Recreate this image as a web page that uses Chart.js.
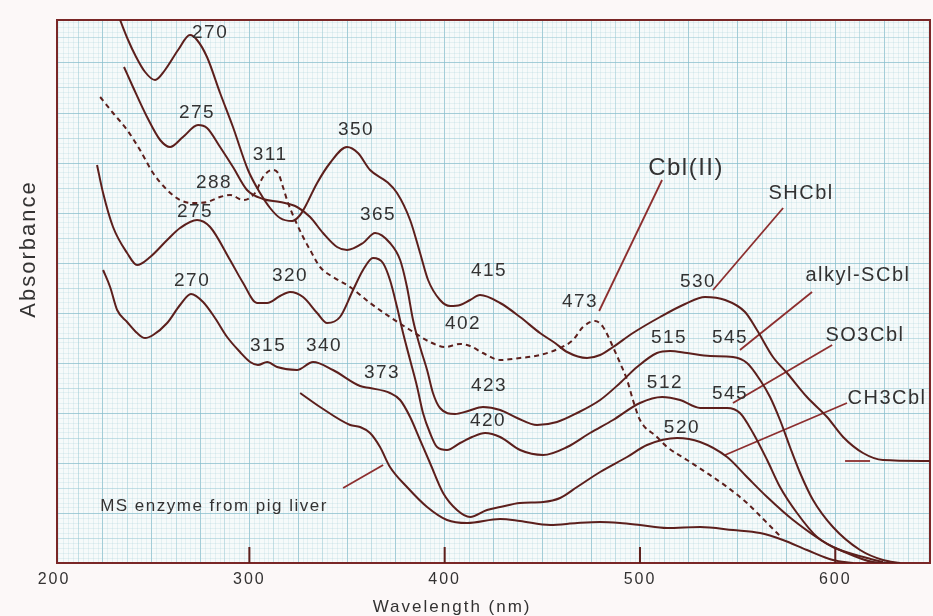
<!DOCTYPE html>
<html>
<head>
<meta charset="utf-8">
<script src="https://cdn.jsdelivr.net/npm/chart.js@4.4.1/dist/chart.umd.min.js"></script>
<style>
  html, body { margin: 0; padding: 0; background: #fcf8f8; }
  #wrap { width: 933px; height: 616px; position: relative; }
</style>
</head>
<body>
<div id="wrap"><canvas id="grafico"></canvas></div>
<script>
// spectra: [wavelength nm, absorbance (arbitrary)]
const shcbl = [[233.8,5.43],[237.9,5.23],[241.5,5.08],[246.6,4.91],[251.7,4.83],[256.8,4.93],[263.5,5.13],[269.6,5.28],[273.2,5.23],[278.3,5.06],[285.0,4.70],[291.6,4.36],[299.3,3.93],[305.5,3.70],[310.6,3.55],[315.7,3.45],[321.9,3.42],[326.0,3.48],[328.5,3.56],[334.7,3.80],[341.3,4.00],[350.0,4.16],[355.6,4.10],[361.8,3.93],[370.5,3.81],[375.6,3.70],[382.3,3.43],[387.4,3.10],[391.5,2.83],[397.6,2.63],[402.8,2.57],[407.9,2.58],[413.0,2.63],[418.1,2.68],[428.4,2.60],[438.6,2.46],[448.8,2.30],[456.5,2.20],[462.7,2.11],[472.9,2.05],[479.6,2.08],[486.2,2.16],[496.4,2.30],[510.3,2.46],[523.1,2.59],[533.3,2.66],[543.6,2.63],[553.8,2.51],[559.9,2.33],[568.1,2.06],[575.3,1.90],[585.5,1.66],[595.8,1.46],[604.0,1.26],[614.2,1.10],[624.4,1.03],[648.5,1.02]];

const alkylScbl = [[235.8,4.96],[240.4,4.76],[247.6,4.46],[254.3,4.23],[259.4,4.16],[266.0,4.26],[273.7,4.38],[278.3,4.35],[285.0,4.16],[291.6,3.96],[298.8,3.73],[307.0,3.64],[315.7,3.61],[324.4,3.56],[331.1,3.46],[337.7,3.30],[344.9,3.16],[350.0,3.13],[358.2,3.20],[364.4,3.30],[372.0,3.20],[377.2,3.03],[380.7,2.76],[383.8,2.43],[387.4,2.16],[391.0,1.93],[394.0,1.70],[397.6,1.55],[405.3,1.49],[412.0,1.52],[419.6,1.56],[428.4,1.53],[437.1,1.45],[447.3,1.38],[457.5,1.41],[467.8,1.50],[479.6,1.63],[489.8,1.80],[498.5,1.96],[508.7,2.10],[515.4,2.12],[524.1,2.10],[535.9,2.07],[547.6,2.06],[554.8,2.00],[561.5,1.83],[566.6,1.66],[571.7,1.43],[576.8,1.16],[582.0,0.90],[588.6,0.63],[598.8,0.36],[612.7,0.13],[624.4,0.03],[633.2,0.00]];

const so3cbl = [[222.0,3.98],[225.1,3.70],[230.2,3.36],[237.4,3.10],[242.5,2.98],[249.2,3.06],[257.9,3.23],[264.5,3.35],[273.2,3.43],[279.9,3.36],[290.1,3.03],[296.8,2.80],[303.9,2.60],[309.1,2.60],[315.7,2.67],[320.8,2.71],[327.5,2.66],[334.7,2.50],[339.8,2.40],[346.4,2.46],[353.1,2.73],[358.2,2.93],[363.3,3.05],[368.4,3.00],[372.0,2.83],[375.6,2.56],[378.7,2.30],[382.3,2.03],[385.9,1.76],[388.9,1.50],[392.5,1.30],[396.1,1.16],[401.2,1.13],[407.9,1.20],[414.0,1.26],[420.7,1.30],[428.4,1.26],[438.6,1.13],[450.4,1.08],[462.7,1.16],[474.4,1.30],[486.2,1.43],[500.0,1.60],[511.3,1.66],[520.5,1.63],[530.8,1.55],[544.6,1.55],[551.2,1.50],[557.9,1.30],[565.1,1.03],[571.7,0.76],[580.4,0.50],[590.7,0.26],[606.0,0.10],[619.3,0.01],[628.0,0.00]];

const ch3cbl = [[225.1,2.93],[228.7,2.76],[232.3,2.53],[237.4,2.41],[242.5,2.30],[246.6,2.25],[250.7,2.28],[257.9,2.40],[264.5,2.58],[270.1,2.69],[276.3,2.61],[282.4,2.45],[288.6,2.26],[295.2,2.11],[300.4,2.01],[304.4,1.98],[309.1,2.01],[314.2,1.96],[324.4,1.93],[332.6,2.01],[342.8,1.93],[356.7,1.77],[361.8,1.75],[372.0,1.70],[377.2,1.63],[382.3,1.46],[387.4,1.23],[392.5,1.00],[399.2,0.70],[406.3,0.53],[413.0,0.46],[421.7,0.53],[428.4,0.56],[438.6,0.60],[450.4,0.61],[459.1,0.65],[467.8,0.76],[479.6,0.91],[493.4,1.06],[503.6,1.18],[519.0,1.25],[530.8,1.21],[544.6,1.06],[554.8,0.86],[565.1,0.66],[578.4,0.43],[598.8,0.16],[616.3,0.05],[624.4,0.01]];

const msEnzyme = [[326.0,1.70],[336.2,1.56],[351.6,1.38],[356.7,1.36],[361.8,1.30],[366.9,1.16],[372.0,0.96],[380.7,0.76],[391.0,0.56],[401.2,0.43],[411.5,0.40],[428.4,0.44],[438.6,0.42],[454.0,0.38],[467.8,0.40],[479.6,0.41],[489.8,0.40],[500.0,0.38],[513.9,0.35],[530.8,0.36],[547.6,0.33],[561.5,0.30],[573.2,0.23],[585.5,0.13],[598.8,0.03],[609.1,0.00]];

const cblII = [[223.6,4.66],[230.2,4.50],[237.4,4.33],[244.0,4.13],[250.7,3.90],[257.9,3.73],[264.5,3.63],[271.2,3.60],[278.3,3.61],[285.0,3.66],[290.1,3.68],[296.8,3.63],[302.9,3.70],[307.0,3.86],[311.6,3.93],[314.7,3.90],[317.2,3.76],[319.8,3.60],[323.4,3.43],[327.5,3.26],[331.1,3.13],[336.2,2.96],[342.8,2.86],[351.6,2.76],[361.8,2.60],[372.0,2.46],[382.3,2.33],[392.5,2.21],[400.2,2.16],[407.9,2.19],[413.0,2.17],[419.6,2.10],[428.4,2.03],[438.6,2.05],[448.8,2.08],[459.1,2.15],[465.7,2.23],[470.8,2.36],[477.0,2.42],[481.1,2.36],[486.2,2.16],[489.8,2.00],[493.4,1.83],[496.4,1.63],[500.0,1.43],[508.7,1.26],[513.9,1.16],[524.1,1.03],[534.3,0.90],[544.6,0.76],[554.8,0.60],[565.1,0.40],[572.7,0.25]];

// pointer strokes from each name to its curve
const leaders = [
  [[511.3,3.83],[479.1,2.52]],
  [[573.3,3.55],[537.4,2.73]],
  [[588.1,2.71],[551.2,2.13]],
  [[598.4,2.18],[547.6,1.60]],
  [[606.0,1.60],[543.6,1.08]],
  [[348.0,0.75],[368.5,0.98]],
  [[605.0,1.02],[617.8,1.02]]
];

const xTicks = [200, 300, 400, 500, 600];
const tickMarks = [300, 400, 500, 600];
const tickLen = 0.16;

const notas = [
  { texto: '270', nm: 279.9, a: 5.30, tipo: 'pico' },
  { texto: '275', nm: 273.2, a: 4.50, tipo: 'pico' },
  { texto: '311', nm: 310.6, a: 4.08, tipo: 'pico' },
  { texto: '288', nm: 281.9, a: 3.80, tipo: 'pico' },
  { texto: '275', nm: 272.2, a: 3.51, tipo: 'pico' },
  { texto: '270', nm: 270.7, a: 2.82, tipo: 'pico' },
  { texto: '320', nm: 320.8, a: 2.87, tipo: 'pico' },
  { texto: '350', nm: 354.6, a: 4.33, tipo: 'pico' },
  { texto: '365', nm: 365.9, a: 3.48, tipo: 'pico' },
  { texto: '415', nm: 422.7, a: 2.92, tipo: 'pico' },
  { texto: '473', nm: 469.3, a: 2.61, tipo: 'pico' },
  { texto: '402', nm: 409.4, a: 2.39, tipo: 'pico' },
  { texto: '315', nm: 309.6, a: 2.17, tipo: 'pico' },
  { texto: '340', nm: 338.2, a: 2.17, tipo: 'pico' },
  { texto: '373', nm: 367.9, a: 1.90, tipo: 'pico' },
  { texto: '423', nm: 422.7, a: 1.77, tipo: 'pico' },
  { texto: '420', nm: 422.2, a: 1.42, tipo: 'pico' },
  { texto: '530', nm: 529.7, a: 2.81, tipo: 'pico' },
  { texto: '515', nm: 514.9, a: 2.25, tipo: 'pico' },
  { texto: '545', nm: 546.1, a: 2.25, tipo: 'pico' },
  { texto: '512', nm: 512.8, a: 1.80, tipo: 'pico' },
  { texto: '545', nm: 546.1, a: 1.69, tipo: 'pico' },
  { texto: '520', nm: 521.5, a: 1.35, tipo: 'pico' },
  { texto: 'Cbl(II)', nm: 523.6, a: 3.95, tipo: 'grande' },
  { texto: 'SHCbl', nm: 582.5, a: 3.70, tipo: 'nome' },
  { texto: 'alkyl-SCbl', nm: 611.6, a: 2.88, tipo: 'nome' },
  { texto: 'SO3Cbl', nm: 615.2, a: 2.28, tipo: 'nome' },
  { texto: 'CH3Cbl', nm: 626.5, a: 1.65, tipo: 'nome' },
  { texto: 'MS enzyme from pig liver', nm: 281.9, a: 0.57, tipo: 'nota' }
];

const familia = '"Liberation Sans", Arial, Helvetica, sans-serif';
const tamanhos = { pico: 19, nome: 20, grande: 24, nota: 17 };
const corCurva = '#5c1f1c';
const corLider = '#8c2e2e';
const corBorda = '#7a2727';
const corTexto = '#333232';
const xMin = 201.5, xMax = 648.5, yMin = 0, yMax = 5.43;

const pts = arr => arr.map(([x, y]) => ({ x, y }));

const curva = (dados, extra) => Object.assign({
  data: pts(dados),
  borderColor: corCurva,
  borderWidth: 2,
  pointRadius: 0,
  fill: false,
  cubicInterpolationMode: 'monotone'
}, extra || {});

const datasets = [
  curva(shcbl),
  curva(alkylScbl),
  curva(so3cbl),
  curva(ch3cbl),
  curva(msEnzyme),
  curva(cblII, { borderDash: [5, 4], borderWidth: 2 }),
  ...leaders.map(l => ({
    data: pts(l), borderColor: corLider, borderWidth: 1.8, pointRadius: 0, tension: 0, fill: false
  })),
  {
    data: tickMarks.flatMap(v => [{ x: v, y: 0 }, { x: v, y: tickLen }, { x: v, y: null }]),
    borderColor: corCurva, borderWidth: 2, pointRadius: 0, tension: 0, spanGaps: false, fill: false
  }
];

// grid paper: fine / medium / bold lines from hidden scales
const gradeX = (passo, cor, borda) => ({
  type: 'linear', position: 'top', min: xMin, max: xMax,
  ticks: { display: false, stepSize: passo, includeBounds: false },
  grid: { color: cor, lineWidth: 1, drawTicks: false },
  border: { display: !!borda, color: corBorda, width: 2 },
  afterFit: s => { s.height = 0; }
});
const gradeY = (passo, cor, borda) => ({
  type: 'linear', position: 'right', min: yMin, max: yMax,
  ticks: { display: false, stepSize: passo, includeBounds: false },
  grid: { color: cor, lineWidth: 1, drawTicks: false },
  border: { display: !!borda, color: corBorda, width: 2 },
  afterFit: s => { s.width = 0; }
});

const papel = {
  id: 'papel',
  beforeDraw(chart) {
    const { ctx, chartArea: a } = chart;
    ctx.save();
    ctx.fillStyle = '#fcf8f8';
    ctx.fillRect(0, 0, chart.width, chart.height);
    ctx.fillStyle = '#f6fafa';
    ctx.fillRect(a.left, a.top, a.right - a.left, a.bottom - a.top);
    ctx.restore();
    ctx.letterSpacing = '2px';
  },
  afterDatasetsDraw(chart) {
    const { ctx, chartArea: a } = chart;
    const x = chart.scales.x, y = chart.scales.y;
    ctx.save();
    ctx.fillStyle = corTexto;
    ctx.textAlign = 'center';
    ctx.textBaseline = 'middle';
    ctx.letterSpacing = '1.5px';
    notas.forEach(n => {
      ctx.font = tamanhos[n.tipo] + 'px ' + familia;
      ctx.fillText(n.texto, x.getPixelForValue(n.nm), y.getPixelForValue(n.a));
    });
    ctx.letterSpacing = '2px';
    ctx.font = '17px ' + familia;
    ctx.fillText('Wavelength (nm)', x.getPixelForValue(403.8), a.bottom + 44);
    ctx.translate(29, y.getPixelForValue(3.14));
    ctx.rotate(-Math.PI / 2);
    ctx.font = '22px ' + familia;
    ctx.fillText('Absorbance', 0, 0);
    ctx.restore();
  }
};

new Chart(document.getElementById('grafico'), {
  type: 'line',
  data: { datasets },
  options: {
    responsive: true,
    maintainAspectRatio: false,
    animation: false,
    events: [],
    layout: { padding: { top: 20, right: 3, left: 0, bottom: 0 } },
    plugins: { legend: { display: false }, tooltip: { enabled: false } },
    scales: {
      gx1: gradeX(2.5, 'rgba(160,205,215,0.22)', true),
      gx2: gradeX(12.5, 'rgba(145,195,208,0.38)'),
      gx3: gradeX(25, 'rgba(130,185,202,0.48)'),
      gy1: gradeY(0.05, 'rgba(160,205,215,0.22)', true),
      gy2: gradeY(0.25, 'rgba(145,195,208,0.38)'),
      gy3: gradeY(0.5, 'rgba(130,185,202,0.48)'),
      x: {
        type: 'linear', position: 'bottom', min: xMin, max: xMax,
        afterBuildTicks: s => { s.ticks = xTicks.map(v => ({ value: v })); },
        afterFit: s => { s.height = 53; },
        grid: { display: false, drawTicks: false },
        border: { display: true, color: corBorda, width: 2 },
        ticks: { color: corTexto, font: { family: familia, size: 16 }, padding: 7, autoSkip: false, maxRotation: 0, callback: v => String(v) }
      },
      y: {
        type: 'linear', position: 'left', min: yMin, max: yMax,
        afterFit: s => { s.width = 57; },
        grid: { display: false, drawTicks: false },
        border: { display: true, color: corBorda, width: 2 },
        ticks: { display: false }
      }
    }
  },
  plugins: [papel]
});
</script>
</body>
</html>
